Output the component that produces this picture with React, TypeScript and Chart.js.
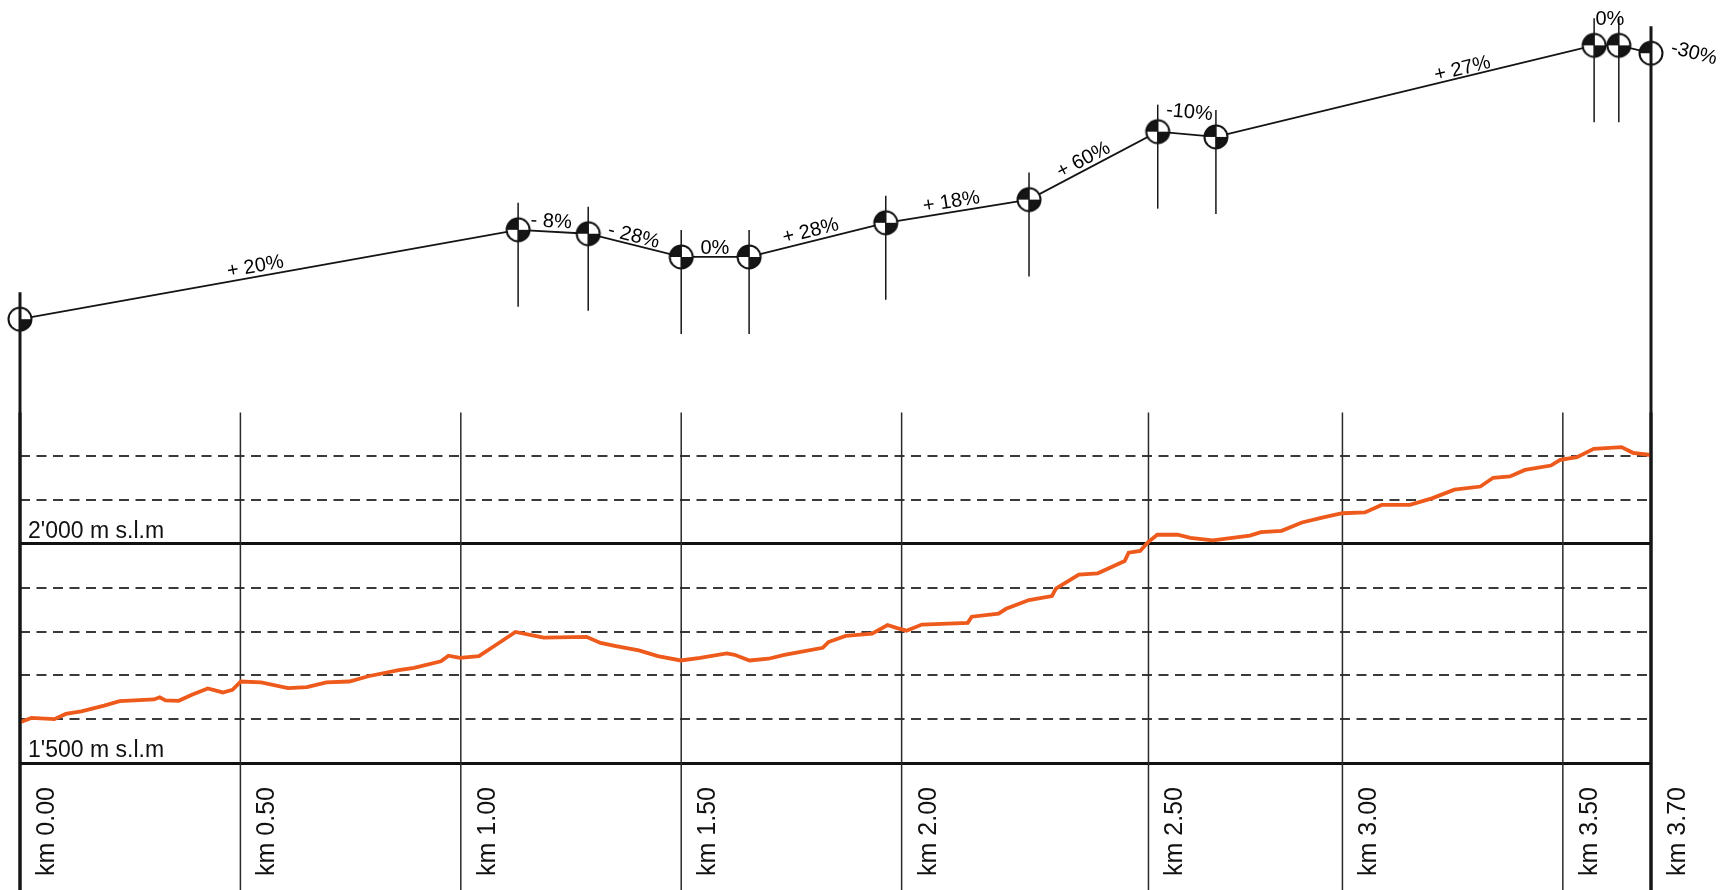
import React, { useEffect, useRef } from 'react';
import { Chart, registerables } from 'chart.js';

Chart.register(...registerables);

// ---------------- DATA ----------------
// Elevation profile (orange line): distance in km, elevation in m a.s.l.
const elevKm = [
  0, 0.026, 0.078, 0.104, 0.139, 0.191, 0.226, 0.304, 0.317, 0.33,
  0.36, 0.39, 0.426, 0.46, 0.482, 0.501, 0.547, 0.608, 0.651, 0.695,
  0.747, 0.79, 0.859, 0.894, 0.955, 0.972, 0.998, 1.041, 1.076, 1.124,
  1.188, 1.285, 1.317, 1.352, 1.404, 1.447, 1.499, 1.543, 1.603, 1.621,
  1.655, 1.698, 1.734, 1.821, 1.834, 1.873, 1.933, 1.968, 1.99, 2.011,
  2.046, 2.15, 2.159, 2.22, 2.237, 2.289, 2.341, 2.35, 2.402, 2.445,
  2.506, 2.515, 2.541, 2.558, 2.58, 2.626, 2.655, 2.706, 2.79, 2.815,
  2.862, 2.908, 2.959, 3.0, 3.051, 3.089, 3.153, 3.203, 3.254, 3.313,
  3.342, 3.38, 3.414, 3.473, 3.494, 3.532, 3.57, 3.633, 3.659, 3.7,
];
const elevM = [
  1593, 1603, 1600, 1612, 1618, 1631, 1641, 1645, 1650, 1643,
  1642, 1656, 1670, 1661, 1667, 1686, 1684, 1671, 1673, 1684,
  1686, 1698, 1712, 1717, 1732, 1745, 1740, 1744, 1767, 1799,
  1786, 1788, 1774, 1767, 1757, 1744, 1734, 1740, 1750, 1747,
  1734, 1738, 1747, 1763, 1776, 1790, 1795, 1815, 1808, 1802,
  1816, 1820, 1834, 1841, 1852, 1872, 1881, 1898, 1930, 1933,
  1961, 1980, 1984, 2003, 2021, 2021, 2014, 2008, 2019, 2027,
  2030, 2049, 2061, 2070, 2072, 2089, 2089, 2104, 2124, 2131,
  2151, 2154, 2169, 2179, 2192, 2198, 2217, 2221, 2208, 2203,
];

// Simplified schematic profile (top): break points
const profileKm = [0, 1.13, 1.289, 1.5, 1.654, 1.964, 2.289, 2.581, 2.713, 3.571, 3.627, 3.7];
const profileM = [1593, 1797, 1788, 1735, 1735, 1813, 1866, 2021, 2009, 2218, 2218, 2200];
const gradeLabels = ['+ 20%', '- 8%', '- 28%', '0%', '+ 28%', '+ 18%', '+ 60%', '-10%', '+ 27%', '0%', '-30%'];

// Distance ticks
const tickKm = [0, 0.5, 1, 1.5, 2, 2.56, 3, 3.5, 3.7];
const tickLabels = ['km 0.00', 'km 0.50', 'km 1.00', 'km 1.50', 'km 2.00', 'km 2.50', 'km 3.00', 'km 3.50', 'km 3.70'];

// Elevation grid
const elevTicks = [1500, 1600, 1700, 1800, 1900, 2000, 2100, 2200];
const elevTickLabels = ["1'500 m s.l.m", '', '', '', '', "2'000 m s.l.m", '', ''];
const majorElev = [1500, 2000];

// ---------------- STYLE / LAYOUT ----------------
const W = 1733;
const H = 890;
const FONT = "'Liberation Sans', Arial, Helvetica, sans-serif";
const ELEV_MIN = 1500;
const ELEV_MAX = 3210;
const SCHEMATIC_SHIFT = 920; // schematic drawn above, shifted upward
const GRID_TOP_ELEV = 2300;
const ORANGE = '#ee5a1c';
// placement of each grade label along its segment: t = fraction, off = px above
const labelPlacement = [
  { t: 0.476, off: 10 },
  { t: 0.464, off: 10 },
  { t: 0.467, off: 8.5 },
  { t: 0.497, off: 8.5 },
  { t: 0.468, off: 10 },
  { t: 0.469, off: 10 },
  { t: 0.458, off: 9.5 },
  { t: 0.51, off: 22 },
  { t: 0.657, off: 8 },
  { t: 0.64, off: 26 },
  { t: 2.26, off: 10 },
];

function makeMarker(kind: 'start' | 'mid' | 'end'): HTMLCanvasElement {
  const c = document.createElement('canvas');
  const s = 28;
  c.width = s;
  c.height = s;
  const g = c.getContext('2d')!;
  const cx = s / 2;
  const r = 11.5;
  g.beginPath();
  g.arc(cx, cx, r, 0, Math.PI * 2);
  g.fillStyle = '#fff';
  g.fill();
  g.fillStyle = '#151515';
  const quad = (a0: number, a1: number) => {
    g.beginPath();
    g.moveTo(cx, cx);
    g.arc(cx, cx, r, a0, a1);
    g.closePath();
    g.fill();
  };
  if (kind === 'start' || kind === 'mid') quad(0, Math.PI / 2); // bottom-right
  if (kind === 'end' || kind === 'mid') quad(Math.PI, Math.PI * 1.5); // top-left
  g.beginPath();
  g.arc(cx, cx, r, 0, Math.PI * 2);
  g.lineWidth = 2;
  g.strokeStyle = '#111';
  g.stroke();
  return c;
}

function profilePixel(chart: any, j: number) {
  return {
    x: chart.scales.x.getPixelForValue(profileKm[j]),
    y: chart.scales.yTop.getPixelForValue(profileM[j]),
  };
}

const overlayPlugin = {
  id: 'profileOverlay',
  beforeDatasetsDraw(chart: any) {
    const { ctx } = chart;
    const xs = chart.scales.x;
    const ys = chart.scales.y;
    const gridTop = ys.getPixelForValue(GRID_TOP_ELEV);
    const last = tickKm.length - 1;
    ctx.save();
    tickKm.forEach((km, i) => {
      const x = xs.getPixelForValue(km);
      const edge = i === 0 || i === last;
      ctx.beginPath();
      ctx.lineWidth = edge ? 3 : 1.5;
      ctx.strokeStyle = edge ? '#161616' : '#2a2a2a';
      ctx.moveTo(x, gridTop);
      ctx.lineTo(x, chart.height);
      ctx.stroke();
    });
    ctx.restore();
  },
  afterDatasetsDraw(chart: any) {
    const { ctx } = chart;
    const n = profileKm.length;
    const pts = profileKm.map((_k, j) => profilePixel(chart, j));
    ctx.save();
    // vertical lines through markers (edge markers continue as the axis lines)
    pts.forEach((p: any, j: number) => {
      const edge = j === 0 || j === n - 1;
      ctx.beginPath();
      ctx.lineWidth = edge ? 3 : 1.5;
      ctx.strokeStyle = '#161616';
      ctx.moveTo(p.x, p.y - 27);
      ctx.lineTo(p.x, edge ? chart.height : p.y + 77);
      ctx.stroke();
    });
    // grade labels
    ctx.fillStyle = '#000';
    ctx.font = `20px ${FONT}`;
    ctx.textAlign = 'center';
    ctx.textBaseline = 'middle';
    gradeLabels.forEach((txt, i) => {
      const p0 = pts[i];
      const p1 = pts[i + 1];
      if (!p0 || !p1) return;
      const { t, off } = labelPlacement[i];
      const ang = Math.atan2(p1.y - p0.y, p1.x - p0.x);
      const bx = p0.x + (p1.x - p0.x) * t;
      const by = p0.y + (p1.y - p0.y) * t;
      const cx = bx + Math.sin(ang) * off;
      const cy = by - Math.cos(ang) * off;
      ctx.save();
      ctx.translate(cx, cy);
      ctx.rotate(ang);
      ctx.fillText(txt, 0, 0);
      ctx.restore();
    });
    ctx.restore();
  },
};

export default function App() {
  const ref = useRef<HTMLCanvasElement | null>(null);

  useEffect(() => {
    document.body.style.margin = '0';
    const canvas = ref.current;
    if (!canvas) return;
    const markers = {
      start: makeMarker('start'),
      mid: makeMarker('mid'),
      end: makeMarker('end'),
    };
    const isMajor = (v: any) => majorElev.includes(v);

    const chart = new Chart(canvas, {
      type: 'line',
      data: {
        datasets: [
          {
            label: 'Elevation',
            data: elevKm.map((k, i) => ({ x: k, y: elevM[i] })),
            yAxisID: 'y',
            borderColor: ORANGE,
            borderWidth: 3.8,
            pointRadius: 0,
            tension: 0,
            fill: false,
          },
          {
            label: 'Schematic',
            data: profileKm.map((k, i) => ({ x: k, y: profileM[i] })),
            yAxisID: 'yTop',
            borderColor: '#141414',
            borderWidth: 1.8,
            tension: 0,
            fill: false,
            clip: false,
            pointRadius: 12,
            pointStyle: (c: any) =>
              c.dataIndex === 0
                ? markers.start
                : c.dataIndex === profileKm.length - 1
                ? markers.end
                : markers.mid,
          },
        ],
      },
      options: {
        animation: false,
        responsive: false,
        devicePixelRatio: 1,
        layout: { padding: { left: 20, right: 82, top: 0, bottom: 0 } },
        plugins: {
          legend: { display: false },
          tooltip: { enabled: false },
        },
        scales: {
          x: {
            type: 'linear',
            position: 'bottom',
            min: 0,
            max: 3.7,
            grid: { display: false, drawTicks: false },
            border: { display: false },
            afterBuildTicks: (s: any) => {
              s.ticks = tickKm.map((v) => ({ value: v }));
            },
            afterFit: (s: any) => {
              s.height = 127;
              s.paddingLeft = 0;
              s.paddingRight = 0;
            },
            ticks: {
              autoSkip: false,
              minRotation: 90,
              maxRotation: 90,
              labelOffset: 27,
              padding: 24,
              color: '#111',
              font: { family: FONT, size: 25 },
              callback: (_v: any, i: number) => tickLabels[i],
            },
          },
          y: {
            type: 'linear',
            position: 'left',
            min: ELEV_MIN,
            max: ELEV_MAX,
            afterBuildTicks: (s: any) => {
              s.ticks = elevTicks.map((v) => ({ value: v }));
            },
            afterFit: (s: any) => {
              s.width = 0;
              s.paddingTop = 0;
              s.paddingBottom = 0;
            },
            grid: {
              drawTicks: false,
              color: (c: any) => (isMajor(c.tick?.value) ? '#111' : '#3a3a3a'),
              lineWidth: (c: any) => (isMajor(c.tick?.value) ? 3 : 2),
            },
            border: {
              display: false,
              dash: (c: any) => (c.tick && !isMajor(c.tick.value) ? [10, 6.5] : []),
            },
            ticks: {
              mirror: true,
              padding: 8,
              labelOffset: -12.5,
              color: '#111',
              font: { family: FONT, size: 23 },
              callback: (_v: any, i: number) => elevTickLabels[i],
            },
          },
          yTop: {
            type: 'linear',
            display: false,
            min: ELEV_MIN - SCHEMATIC_SHIFT,
            max: ELEV_MAX - SCHEMATIC_SHIFT,
          },
        },
      } as any,
      plugins: [overlayPlugin],
    });
    return () => chart.destroy();
  }, []);

  return (
    <div
      style={{
        position: 'fixed',
        left: 0,
        top: 0,
        width: W,
        height: H,
        background: '#fff',
      }}
    >
      <canvas ref={ref} width={W} height={H} style={{ width: W, height: H, display: 'block' }} />
    </div>
  );
}
